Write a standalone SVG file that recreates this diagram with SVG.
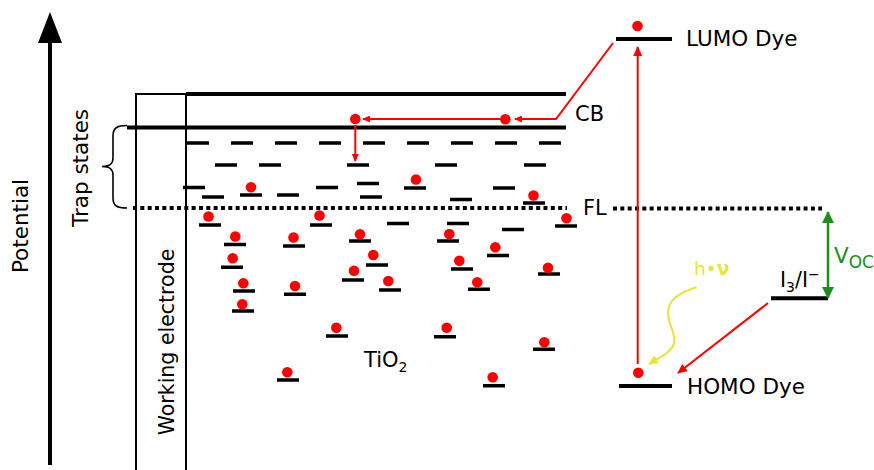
<svg xmlns="http://www.w3.org/2000/svg" width="874" height="470" viewBox="0 0 874 470">
<style>
text{font-family:"DejaVu Sans","Liberation Sans",sans-serif;fill:#000}
.lv{stroke:#000;stroke-width:3.5;fill:none}
.thick{stroke:#000;stroke-width:4;fill:none}
.e{fill:#ff0000}
.red{stroke:#ff0000;stroke-width:2;fill:none}
.fl{stroke:#000;stroke-width:4;stroke-dasharray:4 3.33;fill:none}
</style>
<defs>
<marker id="ar" markerUnits="userSpaceOnUse" markerWidth="10" markerHeight="9" refX="9" refY="4.5" orient="auto"><path d="M0,0 L10,4.5 L0,9 z" fill="#ff0000"/></marker>
<marker id="ars" markerUnits="userSpaceOnUse" markerWidth="8" markerHeight="7" refX="7" refY="3.5" orient="auto"><path d="M0,0 L8,3.5 L0,7 z" fill="#ff0000"/></marker>
<marker id="ag" markerUnits="userSpaceOnUse" markerWidth="12" markerHeight="12" refX="11" refY="6" orient="auto-start-reverse"><path d="M0,0 L12,6 L0,12 z" fill="#1e8c1e"/></marker>
<marker id="ay" markerUnits="userSpaceOnUse" markerWidth="10" markerHeight="9" refX="9" refY="4.5" orient="auto"><path d="M0,0 L10,4.5 L0,9 z" fill="#e6e63a"/></marker>
</defs>

<g id="potential-axis">
<line x1="50" y1="465" x2="50" y2="40" stroke="#000" stroke-width="4"/>
<polygon points="50,12 62,43 38,43" fill="#000"/>
<text transform="translate(27.5,226) rotate(-90)" text-anchor="middle" font-size="21.5">Potential</text>
</g>

<g id="trap-states-label">
<path d="M127,125.5 C117,125.5 113,128 113,136 L113,158 C113,164 110,166.5 102,166.5 C110,166.5 113,169 113,175 L113,198 C113,206 117,208 127,208" stroke="#000" stroke-width="1.6" fill="none"/>
<text transform="translate(87.5,168) rotate(-90)" text-anchor="middle" font-size="21.5">Trap states</text>
</g>

<g id="working-electrode">
<path d="M136,470 L136,94 L186,94 L186,470" stroke="#000" stroke-width="2" fill="none"/>
<text transform="translate(174,342) rotate(-90)" text-anchor="middle" font-size="20.5">Working electrode</text>
</g>

<g id="tio2-bands">
<line class="thick" x1="186" y1="94" x2="566" y2="94"/>
<line class="thick" x1="127" y1="127.5" x2="566" y2="127.5"/>
<text x="575" y="120.5" font-size="21">CB</text>
<line class="fl" x1="133" y1="208" x2="567" y2="208"/>
<text x="583" y="214.5" font-size="21">FL</text>
<line class="fl" x1="613" y1="208.5" x2="822" y2="208.5"/>
<text x="364" y="367" font-size="21">TiO<tspan font-size="14" dy="5">2</tspan></text>
</g>

<g id="trap-levels">
<line class="lv" x1="187" y1="143" x2="563" y2="143" stroke-dasharray="22 22"/>
<path class="lv" d="M215,165h22M259,165h22M347,165h22M435,165h22M524,165h22"/>
<path class="lv" d="M183,187.5h22M202,197h22M240,195h22M277,195h22M316,187.5h22M357,183.5h22M360,197h22M404,188h22M450,199.5h22M493,188h22M523,203h22"/>
<path class="lv" d="M199,225h22M310,225h22M387,223.5h22M447,223.5h22M502,229.5h22M555,226h22M224,244.5h22M283,246h22M349,241h22M437,241h22M487,255.5h22M221,267.3h22M366,265h22M451,269h22M538,274h22M342,280h22M233,291h22M284,294.3h22M379,290h22M468,289.3h22M232,311h22M326,336h22M434,336.7h22M533,349.3h22M277,380h22M483,385.7h22"/>
</g>

<g id="electrons">
<circle class="e" cx="355.3" cy="119" r="5.3"/>
<circle class="e" cx="505.3" cy="119.3" r="5.3"/>
<circle class="e" cx="251" cy="187.3" r="5.3"/>
<circle class="e" cx="416" cy="179.5" r="5.3"/>
<circle class="e" cx="533.5" cy="195.5" r="5.3"/>
<circle class="e" cx="208.5" cy="216.5" r="5.3"/>
<circle class="e" cx="319.5" cy="215.5" r="5.3"/>
<circle class="e" cx="566.5" cy="218.3" r="5.3"/>
<circle class="e" cx="235.3" cy="236.5" r="5.3"/>
<circle class="e" cx="293.5" cy="237.5" r="5.3"/>
<circle class="e" cx="360" cy="234.3" r="5.3"/>
<circle class="e" cx="449.3" cy="234" r="5.3"/>
<circle class="e" cx="495.3" cy="247.3" r="5.3"/>
<circle class="e" cx="232.7" cy="258.3" r="5.3"/>
<circle class="e" cx="373.3" cy="255" r="5.3"/>
<circle class="e" cx="459.3" cy="260.7" r="5.3"/>
<circle class="e" cx="548" cy="267.7" r="5.3"/>
<circle class="e" cx="354" cy="270.7" r="5.3"/>
<circle class="e" cx="243.3" cy="283.3" r="5.3"/>
<circle class="e" cx="295" cy="286" r="5.3"/>
<circle class="e" cx="388.3" cy="281" r="5.3"/>
<circle class="e" cx="477.3" cy="282.3" r="5.3"/>
<circle class="e" cx="242.3" cy="304.3" r="5.3"/>
<circle class="e" cx="336.3" cy="327.7" r="5.3"/>
<circle class="e" cx="446.7" cy="327.7" r="5.3"/>
<circle class="e" cx="544.3" cy="342.3" r="5.3"/>
<circle class="e" cx="287.3" cy="372.3" r="5.3"/>
<circle class="e" cx="492.7" cy="377.3" r="5.3"/>
</g>

<g id="lumo-dye">
<line class="thick" x1="616" y1="39" x2="672" y2="39"/>
<circle class="e" cx="637.5" cy="26" r="5.3"/>
<text x="686" y="46" font-size="21.5">LUMO Dye</text>
</g>

<g id="homo-dye">
<line class="thick" x1="619" y1="386" x2="672" y2="386"/>
<circle class="e" cx="638.3" cy="372.7" r="5.3"/>
<text x="687" y="394" font-size="21.5">HOMO Dye</text>
</g>

<g id="redox-couple">
<line class="thick" x1="771" y1="298.3" x2="828" y2="298.3"/>
<text x="780" y="287" font-size="20.5">I<tspan font-size="14" dy="5">3</tspan><tspan dy="-5">/I</tspan><tspan font-size="14" dy="-8">−</tspan></text>
</g>

<g id="light">
<text x="694" y="275" font-size="18.5" style="fill:#e6e63a">h•<tspan font-weight="bold">ν</tspan></text>
</g>

<g id="connectors">
<path class="red" d="M613,43 L556,119 L515,119" marker-end="url(#ars)"/>
<path class="red" d="M500,119 L363,119" marker-end="url(#ars)"/>
<path class="red" d="M355.3,125 L355.3,161" marker-end="url(#ars)"/>
<path class="red" d="M637.7,364 L637.7,47" marker-end="url(#ar)"/>
<path class="red" d="M768,303 L678,373" marker-end="url(#ar)" stroke-width="2.2"/>
<path d="M696.7,287.3 C680,292 668,300 668,313 C668,325 676,332 674,343 C672,352 660,357 649,364" stroke="#e6e63a" stroke-width="2" fill="none" marker-end="url(#ay)"/>
<line x1="828" y1="212" x2="828" y2="298" stroke="#1e8c1e" stroke-width="2.5" marker-start="url(#ag)" marker-end="url(#ag)"/>
<text x="834" y="263" font-size="21.5" style="fill:#1e8c1e">V<tspan font-size="17" dy="5">OC</tspan></text>
</g>
</svg>
